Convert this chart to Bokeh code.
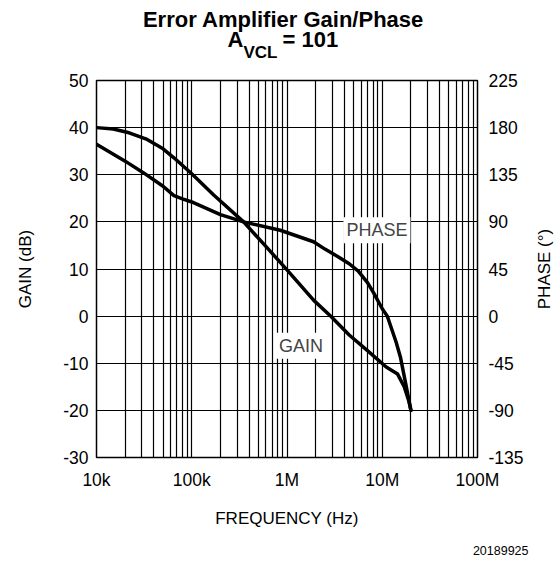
import math
from bokeh.plotting import figure
from bokeh.layouts import column, row
from bokeh.models import Range1d, LinearAxis, FixedTicker, Label, Title
from bokeh.core.properties import value
from bokeh.embed import file_html
from bokeh.resources import INLINE

# ---- data ----
freq_gain = [1e4, 1.5e4, 2.2e4, 3.4e4, 5e4, 6.5e4, 1e5, 1.7e5, 3.5e5, 6e5, 1e6,
             1.9e6, 2.9e6, 4.5e6, 6.9e6, 1.1e7, 1.25e7, 1.45e7, 1.7e7, 1.9e7, 2e7]
gain_db = [40, 39.7, 38.9, 37.5, 35.5, 33.6, 30.2, 25.7, 20, 14.8, 9.8,
           3.4, -0.1, -4, -7.2, -10.8, -11.5, -12.3, -15, -18, -20]

freq_phase = [1e4, 2e4, 3.1e4, 5e4, 6.5e4, 8e4, 1e5, 2e5, 3.5e5, 8.5e5, 1.9e6,
              2.5e6, 3.4e6, 4.5e6, 5.6e6, 7e6, 8.15e6, 1e7, 1.13e7, 1.2e7,
              1.4e7, 1.55e7, 1.75e7, 2e7]
phase_deg = [164, 148, 137, 124, 115, 112, 109, 97, 90, 82, 71,
             64, 57, 50, 43, 32, 22, 7, 0, -7,
             -25, -39, -63, -90]

x_ticks = [1e4, 1e5, 1e6, 1e7, 1e8]
x_tick_labels = ["10k", "100k", "1M", "10M", "100M"]
x_minor = [m * d for d in [1e4, 1e5, 1e6, 1e7] for m in range(2, 10)]
gain_ticks = list(range(-30, 51, 10))
phase_ticks = list(range(-135, 226, 45))

title_line1 = "Error Amplifier Gain/Phase"
title_a, title_sub, title_rest = "A", "VCL", "= 101"
phase_label = "PHASE (°)"
fig_code = "20189925"

FONT = "Liberation Sans"
LEFT_W = 530          # title strip + chart
SIDE_W = 560 - LEFT_W  # strip holding the right axis title
TITLE_H = 68
MAIN_H = 567 - TITLE_H


def no_frame_align(f):
    if "frame_align" in f.properties():
        f.frame_align = False


# ---- title strip (its frame lines up with the chart frame, x 96..477) ----
t = figure(width=LEFT_W, height=TITLE_H, x_range=Range1d(96, 477),
           y_range=Range1d(0, TITLE_H), output_backend="svg",
           toolbar_location=None, x_axis_location=None,
           y_axis_location=None, min_border_left=96,
           min_border_right=LEFT_W - 477,
           min_border_top=0, min_border_bottom=0)
t.outline_line_color = None
t.grid.visible = False
t.background_fill_color = "white"
t.border_fill_color = "white"

t.text(x=[283], y=[TITLE_H - 19], text=[title_line1], text_font=value(FONT),
       text_font_size="22px", text_font_style="bold", text_align="center",
       text_baseline="alphabetic", text_color="black")
t.text(x=[227], y=[TITLE_H - 39], text=[title_a], text_font=value(FONT),
       text_font_size="22px", text_font_style="bold", text_align="left",
       text_baseline="alphabetic", text_color="black")
t.text(x=[243], y=[TITLE_H - 52], text=[title_sub], text_font=value(FONT),
       text_font_size="17px", text_font_style="bold", text_align="left",
       text_baseline="alphabetic", text_color="black")
t.text(x=[282], y=[TITLE_H - 39], text=[title_rest], text_font=value(FONT),
       text_font_size="22px", text_font_style="bold", text_align="left",
       text_baseline="alphabetic", text_color="black")

# ---- main chart ----
p = figure(width=LEFT_W, height=MAIN_H, x_axis_type="log",
           x_range=Range1d(1e4, 1e8), y_range=Range1d(-30, 50),
           output_backend="svg", toolbar_location=None,
           min_border_left=96, min_border_right=LEFT_W - 477,
           min_border_top=12, min_border_bottom=110)
p.extra_y_ranges = {"phase": Range1d(-135, 225)}
p.background_fill_color = "white"
p.border_fill_color = "white"
p.outline_line_color = "black"
p.outline_line_width = 1.5

p.xgrid.ticker = FixedTicker(ticks=x_ticks, minor_ticks=x_minor)
p.xgrid.grid_line_color = "black"
p.xgrid.grid_line_width = 1.2
p.xgrid.minor_grid_line_color = "black"
p.xgrid.minor_grid_line_width = 1.2
p.ygrid.ticker = FixedTicker(ticks=gain_ticks)
p.ygrid.grid_line_color = "black"
p.ygrid.grid_line_width = 1.2

xa = p.xaxis[0]
xa.ticker = FixedTicker(ticks=x_ticks)
xa.major_label_overrides = {float(v): s for v, s in zip(x_ticks, x_tick_labels)}
xa.axis_label = "FREQUENCY (Hz)"
xa.axis_label_standoff = 16
xa.major_label_standoff = 12

ya = p.yaxis[0]
ya.ticker = FixedTicker(ticks=gain_ticks)
ya.major_label_overrides = {float(v): str(v) for v in gain_ticks}
ya.axis_label = "GAIN (dB)"
ya.axis_label_standoff = 25
ya.major_label_standoff = 8

ra = LinearAxis(y_range_name="phase", ticker=FixedTicker(ticks=phase_ticks))
ra.major_label_overrides = {float(v): str(v) for v in phase_ticks}
ra.major_label_standoff = 11
p.add_layout(ra, "right")

for ax in [xa, ya, ra]:
    ax.major_tick_line_color = None
    ax.minor_tick_line_color = None
    ax.major_tick_out = 0
    ax.major_tick_in = 0
    ax.axis_line_color = None
    ax.major_label_text_font = FONT
    ax.major_label_text_font_size = "17.5px"
    ax.major_label_text_color = "black"
    ax.axis_label_text_font = FONT
    ax.axis_label_text_font_size = "17px"
    ax.axis_label_text_font_style = "normal"
    ax.axis_label_text_color = "black"

p.line(freq_gain, gain_db, line_width=3.5, color="black",
       line_join="round", line_cap="round")
p.line(freq_phase, phase_deg, y_range_name="phase", line_width=3.5,
       color="black", line_join="round", line_cap="round")

p.add_layout(Label(x=8.8e6, y=18.2, text="PHASE", text_font=FONT,
                   text_font_size="18px", text_align="center",
                   text_baseline="middle", background_fill_color="white",
                   padding=3))
p.add_layout(Label(x=1.4e6, y=-6.3, text="GAIN", text_font=FONT,
                   text_font_size="18px", text_align="center",
                   text_baseline="middle", background_fill_color="white",
                   padding=3))

# figure code, bottom right
p.add_layout(Title(text=fig_code, align="right", offset=-51, standoff=26,
                   text_font=FONT, text_font_size="12.5px",
                   text_font_style="normal", text_color="black"), "below")

# ---- right strip: phase axis title, reading bottom to top ----
r = figure(width=SIDE_W, height=567, x_range=Range1d(0, SIDE_W),
           y_range=Range1d(0, 1), output_backend="svg",
           toolbar_location=None, x_axis_location=None,
           y_axis_location=None, min_border_left=0, min_border_right=0,
           min_border_top=80, min_border_bottom=110)
r.outline_line_color = None
r.grid.visible = False
r.background_fill_color = "white"
r.border_fill_color = "white"
no_frame_align(r)
r.text(x=[543.5 - LEFT_W], y=[0.5], text=[phase_label], angle=math.pi / 2,
       text_font=value(FONT), text_font_size="17px", text_align="center",
       text_baseline="middle", text_color="black")

layout = row(column(t, p, spacing=0), r, spacing=0)
open("out.html", "w").write(file_html(layout, INLINE))
